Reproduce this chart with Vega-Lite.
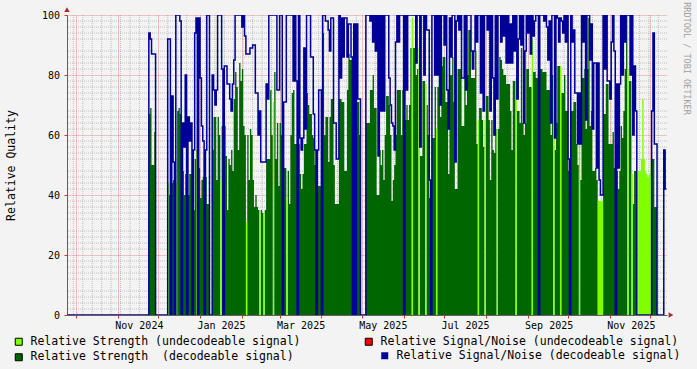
{
  "$schema": "https://vega.github.io/schema/vega-lite/v6.json",
  "width": 600,
  "height": 300,
  "autosize": {"type": "none"},
  "padding": {"left": 67, "top": 15, "right": 30, "bottom": 54},
  "background": "#f3f3f3",
  "config": {"view": {"fill": "#ffffff", "stroke": null}, "font": "DejaVu Sans Mono"},
  "title": {"text": "RRDTOOL / TOBI OETIKER", "orient": "right", "anchor": "start", "font": "DejaVu Sans Mono", "fontSize": 8.5, "fontWeight": "normal", "color": "#a0a0a0", "offset": 1, "dx": -5},
  "datasets": {
    "hgrid": [{"v":2},{"v":4},{"v":6},{"v":8},{"v":12},{"v":14},{"v":16},{"v":18},{"v":22},{"v":24},{"v":26},{"v":28},{"v":32},{"v":34},{"v":36},{"v":38},{"v":42},{"v":44},{"v":46},{"v":48},{"v":52},{"v":54},{"v":56},{"v":58},{"v":62},{"v":64},{"v":66},{"v":68},{"v":72},{"v":74},{"v":76},{"v":78},{"v":82},{"v":84},{"v":86},{"v":88},{"v":92},{"v":94},{"v":96},{"v":98}],
    "weeks": [{"date":"2024-09-29"},{"date":"2024-10-06"},{"date":"2024-10-13"},{"date":"2024-10-20"},{"date":"2024-10-27"},{"date":"2024-11-03"},{"date":"2024-11-10"},{"date":"2024-11-17"},{"date":"2024-11-24"},{"date":"2024-12-08"},{"date":"2024-12-15"},{"date":"2024-12-22"},{"date":"2024-12-29"},{"date":"2025-01-05"},{"date":"2025-01-12"},{"date":"2025-01-19"},{"date":"2025-01-26"},{"date":"2025-02-02"},{"date":"2025-02-09"},{"date":"2025-02-16"},{"date":"2025-02-23"},{"date":"2025-03-02"},{"date":"2025-03-09"},{"date":"2025-03-16"},{"date":"2025-03-23"},{"date":"2025-03-30"},{"date":"2025-04-06"},{"date":"2025-04-13"},{"date":"2025-04-20"},{"date":"2025-04-27"},{"date":"2025-05-04"},{"date":"2025-05-11"},{"date":"2025-05-18"},{"date":"2025-05-25"},{"date":"2025-06-08"},{"date":"2025-06-15"},{"date":"2025-06-22"},{"date":"2025-06-29"},{"date":"2025-07-06"},{"date":"2025-07-13"},{"date":"2025-07-20"},{"date":"2025-07-27"},{"date":"2025-08-03"},{"date":"2025-08-10"},{"date":"2025-08-17"},{"date":"2025-08-24"},{"date":"2025-08-31"},{"date":"2025-09-07"},{"date":"2025-09-14"},{"date":"2025-09-21"},{"date":"2025-09-28"},{"date":"2025-10-05"},{"date":"2025-10-12"},{"date":"2025-10-19"},{"date":"2025-10-26"},{"date":"2025-11-02"},{"date":"2025-11-09"},{"date":"2025-11-16"},{"date":"2025-11-23"},{"date":"2025-11-30"},{"date":"2025-12-07"}],
    "main": [
      {"date":"2024-09-24","dec":0,"und":0,"snr":0},
      {"date":"2024-11-24","dec":67,"und":0,"snr":94},
      {"date":"2024-11-25","dec":69,"und":0,"snr":92},
      {"date":"2024-11-26","dec":50,"und":0,"snr":87},
      {"date":"2024-11-27","dec":50,"und":0,"snr":87},
      {"date":"2024-11-28","dec":61,"und":0,"snr":87},
      {"date":"2024-11-29","dec":0,"und":0,"snr":0},
      {"date":"2024-12-08","dec":0,"und":44,"snr":92},
      {"date":"2024-12-09","dec":40,"und":0,"snr":92},
      {"date":"2024-12-10","dec":0,"und":0,"snr":0},
      {"date":"2024-12-11","dec":44,"und":0,"snr":73},
      {"date":"2024-12-12","dec":45,"und":0,"snr":51},
      {"date":"2024-12-13","dec":0,"und":0,"snr":0},
      {"date":"2024-12-14","dec":0,"und":44,"snr":100},
      {"date":"2024-12-15","dec":68,"und":0,"snr":100},
      {"date":"2024-12-16","dec":69,"und":0,"snr":100},
      {"date":"2024-12-17","dec":67,"und":0,"snr":98},
      {"date":"2024-12-18","dec":0,"und":0,"snr":0},
      {"date":"2024-12-19","dec":48,"und":0,"snr":64},
      {"date":"2024-12-20","dec":40,"und":0,"snr":56},
      {"date":"2024-12-21","dec":47,"und":0,"snr":80},
      {"date":"2024-12-22","dec":0,"und":0,"snr":0},
      {"date":"2024-12-23","dec":40,"und":0,"snr":66},
      {"date":"2024-12-24","dec":47,"und":0,"snr":58},
      {"date":"2024-12-25","dec":47,"und":0,"snr":64},
      {"date":"2024-12-26","dec":0,"und":0,"snr":0},
      {"date":"2024-12-27","dec":35,"und":0,"snr":55},
      {"date":"2024-12-28","dec":52,"und":0,"snr":94},
      {"date":"2024-12-29","dec":0,"und":55,"snr":99},
      {"date":"2024-12-30","dec":0,"und":0,"snr":0},
      {"date":"2024-12-31","dec":49,"und":0,"snr":99},
      {"date":"2025-01-01","dec":39,"und":0,"snr":79},
      {"date":"2025-01-02","dec":45,"und":0,"snr":63},
      {"date":"2025-01-03","dec":46,"und":0,"snr":58},
      {"date":"2025-01-04","dec":0,"und":0,"snr":0},
      {"date":"2025-01-05","dec":46,"und":0,"snr":55},
      {"date":"2025-01-06","dec":37,"und":0,"snr":100},
      {"date":"2025-01-07","dec":37,"und":0,"snr":100},
      {"date":"2025-01-08","dec":0,"und":0,"snr":0},
      {"date":"2025-01-10","dec":55,"und":0,"snr":80},
      {"date":"2025-01-11","dec":66,"und":0,"snr":75},
      {"date":"2025-01-12","dec":66,"und":0,"snr":70},
      {"date":"2025-01-13","dec":45,"und":0,"snr":75},
      {"date":"2025-01-14","dec":66,"und":0,"snr":100},
      {"date":"2025-01-15","dec":60,"und":0,"snr":100},
      {"date":"2025-01-16","dec":0,"und":45,"snr":100},
      {"date":"2025-01-17","dec":63,"und":0,"snr":82},
      {"date":"2025-01-18","dec":0,"und":0,"snr":0},
      {"date":"2025-01-19","dec":63,"und":0,"snr":83},
      {"date":"2025-01-20","dec":53,"und":0,"snr":83},
      {"date":"2025-01-21","dec":35,"und":0,"snr":77},
      {"date":"2025-01-22","dec":52,"und":0,"snr":77},
      {"date":"2025-01-23","dec":50,"und":0,"snr":72},
      {"date":"2025-01-24","dec":55,"und":0,"snr":68},
      {"date":"2025-01-25","dec":48,"und":0,"snr":77},
      {"date":"2025-01-26","dec":72,"und":0,"snr":85},
      {"date":"2025-01-27","dec":81,"und":0,"snr":100},
      {"date":"2025-01-28","dec":76,"und":0,"snr":100},
      {"date":"2025-01-29","dec":55,"und":0,"snr":100},
      {"date":"2025-01-30","dec":84,"und":0,"snr":100},
      {"date":"2025-01-31","dec":78,"und":0,"snr":100},
      {"date":"2025-02-01","dec":82,"und":0,"snr":96},
      {"date":"2025-02-02","dec":63,"und":0,"snr":100},
      {"date":"2025-02-03","dec":60,"und":0,"snr":93},
      {"date":"2025-02-04","dec":0,"und":31,"snr":87},
      {"date":"2025-02-05","dec":60,"und":0,"snr":87},
      {"date":"2025-02-06","dec":45,"und":0,"snr":87},
      {"date":"2025-02-07","dec":62,"und":0,"snr":89},
      {"date":"2025-02-08","dec":60,"und":0,"snr":89},
      {"date":"2025-02-09","dec":45,"und":0,"snr":90},
      {"date":"2025-02-10","dec":36,"und":0,"snr":90},
      {"date":"2025-02-11","dec":40,"und":0,"snr":74},
      {"date":"2025-02-12","dec":36,"und":0,"snr":74},
      {"date":"2025-02-13","dec":35,"und":0,"snr":60},
      {"date":"2025-02-14","dec":0,"und":34,"snr":68},
      {"date":"2025-02-15","dec":35,"und":0,"snr":51},
      {"date":"2025-02-16","dec":34,"und":0,"snr":51},
      {"date":"2025-02-17","dec":0,"und":34,"snr":51},
      {"date":"2025-02-18","dec":35,"und":0,"snr":51},
      {"date":"2025-02-19","dec":52,"und":0,"snr":77},
      {"date":"2025-02-20","dec":52,"und":0,"snr":72},
      {"date":"2025-02-21","dec":52,"und":0,"snr":100},
      {"date":"2025-02-22","dec":75,"und":0,"snr":100},
      {"date":"2025-02-23","dec":60,"und":0,"snr":100},
      {"date":"2025-02-24","dec":0,"und":71,"snr":100},
      {"date":"2025-02-25","dec":81,"und":0,"snr":100},
      {"date":"2025-02-26","dec":52,"und":0,"snr":100},
      {"date":"2025-02-27","dec":64,"und":0,"snr":75},
      {"date":"2025-02-28","dec":43,"und":0,"snr":75},
      {"date":"2025-03-01","dec":64,"und":0,"snr":100},
      {"date":"2025-03-02","dec":60,"und":0,"snr":100},
      {"date":"2025-03-03","dec":0,"und":0,"snr":0},
      {"date":"2025-03-04","dec":49,"und":0,"snr":71},
      {"date":"2025-03-05","dec":49,"und":0,"snr":71},
      {"date":"2025-03-06","dec":0,"und":39,"snr":100},
      {"date":"2025-03-07","dec":48,"und":0,"snr":100},
      {"date":"2025-03-08","dec":37,"und":0,"snr":100},
      {"date":"2025-03-09","dec":60,"und":0,"snr":100},
      {"date":"2025-03-10","dec":74,"und":0,"snr":100},
      {"date":"2025-03-11","dec":75,"und":0,"snr":78},
      {"date":"2025-03-12","dec":57,"und":0,"snr":100},
      {"date":"2025-03-13","dec":57,"und":0,"snr":78},
      {"date":"2025-03-14","dec":0,"und":0,"snr":0},
      {"date":"2025-03-15","dec":57,"und":0,"snr":100},
      {"date":"2025-03-16","dec":47,"und":0,"snr":59},
      {"date":"2025-03-17","dec":42,"und":0,"snr":55},
      {"date":"2025-03-18","dec":47,"und":0,"snr":59},
      {"date":"2025-03-19","dec":57,"und":0,"snr":89},
      {"date":"2025-03-20","dec":57,"und":0,"snr":62},
      {"date":"2025-03-21","dec":74,"und":0,"snr":100},
      {"date":"2025-03-22","dec":70,"und":0,"snr":100},
      {"date":"2025-03-23","dec":67,"und":0,"snr":100},
      {"date":"2025-03-24","dec":67,"und":0,"snr":86},
      {"date":"2025-03-25","dec":60,"und":0,"snr":86},
      {"date":"2025-03-26","dec":59,"und":0,"snr":67},
      {"date":"2025-03-27","dec":50,"und":0,"snr":55},
      {"date":"2025-03-28","dec":0,"und":0,"snr":0},
      {"date":"2025-03-29","dec":43,"und":0,"snr":55},
      {"date":"2025-03-30","dec":43,"und":0,"snr":75},
      {"date":"2025-03-31","dec":43,"und":0,"snr":75},
      {"date":"2025-04-01","dec":0,"und":0,"snr":0},
      {"date":"2025-04-02","dec":94,"und":0,"snr":100},
      {"date":"2025-04-03","dec":60,"und":0,"snr":100},
      {"date":"2025-04-04","dec":66,"und":0,"snr":98},
      {"date":"2025-04-05","dec":66,"und":0,"snr":98},
      {"date":"2025-04-06","dec":51,"und":0,"snr":95},
      {"date":"2025-04-07","dec":66,"und":0,"snr":88},
      {"date":"2025-04-08","dec":72,"und":0,"snr":99},
      {"date":"2025-04-09","dec":72,"und":0,"snr":99},
      {"date":"2025-04-10","dec":50,"und":0,"snr":64},
      {"date":"2025-04-11","dec":37,"und":0,"snr":64},
      {"date":"2025-04-12","dec":37,"und":0,"snr":52},
      {"date":"2025-04-13","dec":37,"und":0,"snr":52},
      {"date":"2025-04-14","dec":72,"und":0,"snr":100},
      {"date":"2025-04-15","dec":72,"und":0,"snr":79},
      {"date":"2025-04-16","dec":71,"und":0,"snr":99},
      {"date":"2025-04-17","dec":71,"und":0,"snr":86},
      {"date":"2025-04-18","dec":48,"und":0,"snr":99},
      {"date":"2025-04-19","dec":48,"und":0,"snr":99},
      {"date":"2025-04-20","dec":75,"und":0,"snr":86},
      {"date":"2025-04-21","dec":87,"und":0,"snr":97},
      {"date":"2025-04-22","dec":85,"und":0,"snr":97},
      {"date":"2025-04-23","dec":85,"und":0,"snr":86},
      {"date":"2025-04-24","dec":0,"und":0,"snr":0},
      {"date":"2025-04-25","dec":48,"und":0,"snr":97},
      {"date":"2025-04-26","dec":0,"und":0,"snr":0},
      {"date":"2025-04-27","dec":71,"und":0,"snr":97},
      {"date":"2025-04-28","dec":71,"und":0,"snr":72},
      {"date":"2025-04-29","dec":60,"und":0,"snr":72},
      {"date":"2025-04-30","dec":0,"und":0,"snr":0},
      {"date":"2025-05-04","dec":64,"und":0,"snr":100},
      {"date":"2025-05-05","dec":64,"und":0,"snr":100},
      {"date":"2025-05-06","dec":64,"und":0,"snr":100},
      {"date":"2025-05-07","dec":75,"und":0,"snr":98},
      {"date":"2025-05-08","dec":75,"und":0,"snr":100},
      {"date":"2025-05-09","dec":80,"und":0,"snr":91},
      {"date":"2025-05-10","dec":69,"und":0,"snr":100},
      {"date":"2025-05-11","dec":69,"und":0,"snr":88},
      {"date":"2025-05-12","dec":40,"und":0,"snr":100},
      {"date":"2025-05-13","dec":40,"und":0,"snr":53},
      {"date":"2025-05-14","dec":55,"und":0,"snr":100},
      {"date":"2025-05-15","dec":50,"und":0,"snr":68},
      {"date":"2025-05-16","dec":55,"und":0,"snr":100},
      {"date":"2025-05-17","dec":45,"und":0,"snr":68},
      {"date":"2025-05-18","dec":60,"und":0,"snr":100},
      {"date":"2025-05-19","dec":73,"und":0,"snr":100},
      {"date":"2025-05-20","dec":73,"und":0,"snr":100},
      {"date":"2025-05-21","dec":70,"und":0,"snr":79},
      {"date":"2025-05-22","dec":60,"und":0,"snr":70},
      {"date":"2025-05-23","dec":38,"und":0,"snr":64},
      {"date":"2025-05-24","dec":45,"und":0,"snr":63},
      {"date":"2025-05-25","dec":50,"und":0,"snr":55},
      {"date":"2025-05-26","dec":60,"und":0,"snr":91},
      {"date":"2025-05-27","dec":75,"und":0,"snr":100},
      {"date":"2025-05-28","dec":75,"und":0,"snr":91},
      {"date":"2025-05-29","dec":75,"und":0,"snr":100},
      {"date":"2025-05-30","dec":60,"und":0,"snr":100},
      {"date":"2025-05-31","dec":75,"und":0,"snr":100},
      {"date":"2025-06-01","dec":0,"und":0,"snr":0},
      {"date":"2025-06-02","dec":65,"und":0,"snr":100},
      {"date":"2025-06-03","dec":70,"und":0,"snr":75},
      {"date":"2025-06-04","dec":65,"und":0,"snr":100},
      {"date":"2025-06-05","dec":70,"und":0,"snr":100},
      {"date":"2025-06-06","dec":89,"und":0,"snr":100},
      {"date":"2025-06-07","dec":0,"und":99,"snr":100},
      {"date":"2025-06-08","dec":89,"und":0,"snr":100},
      {"date":"2025-06-09","dec":89,"und":0,"snr":100},
      {"date":"2025-06-10","dec":80,"und":0,"snr":84},
      {"date":"2025-06-11","dec":82,"und":0,"snr":100},
      {"date":"2025-06-12","dec":0,"und":89,"snr":100},
      {"date":"2025-06-13","dec":53,"und":0,"snr":56},
      {"date":"2025-06-14","dec":53,"und":0,"snr":100},
      {"date":"2025-06-15","dec":78,"und":0,"snr":100},
      {"date":"2025-06-16","dec":78,"und":0,"snr":80},
      {"date":"2025-06-17","dec":0,"und":77,"snr":100},
      {"date":"2025-06-18","dec":70,"und":0,"snr":95},
      {"date":"2025-06-19","dec":60,"und":0,"snr":95},
      {"date":"2025-06-20","dec":39,"und":0,"snr":45},
      {"date":"2025-06-21","dec":0,"und":0,"snr":0},
      {"date":"2025-06-22","dec":59,"und":0,"snr":100},
      {"date":"2025-06-23","dec":59,"und":0,"snr":100},
      {"date":"2025-06-24","dec":76,"und":0,"snr":80},
      {"date":"2025-06-25","dec":0,"und":62,"snr":100},
      {"date":"2025-06-26","dec":76,"und":0,"snr":80},
      {"date":"2025-06-27","dec":83,"und":0,"snr":100},
      {"date":"2025-06-28","dec":66,"und":0,"snr":70},
      {"date":"2025-06-29","dec":83,"und":0,"snr":100},
      {"date":"2025-06-30","dec":86,"und":0,"snr":100},
      {"date":"2025-07-01","dec":86,"und":0,"snr":90},
      {"date":"2025-07-02","dec":71,"und":0,"snr":100},
      {"date":"2025-07-03","dec":71,"und":0,"snr":75},
      {"date":"2025-07-04","dec":47,"und":0,"snr":62},
      {"date":"2025-07-05","dec":80,"und":0,"snr":99},
      {"date":"2025-07-06","dec":80,"und":0,"snr":86},
      {"date":"2025-07-07","dec":86,"und":0,"snr":100},
      {"date":"2025-07-08","dec":71,"und":0,"snr":100},
      {"date":"2025-07-09","dec":42,"und":0,"snr":51},
      {"date":"2025-07-10","dec":42,"und":0,"snr":98},
      {"date":"2025-07-11","dec":82,"und":0,"snr":100},
      {"date":"2025-07-12","dec":82,"und":0,"snr":95},
      {"date":"2025-07-13","dec":82,"und":0,"snr":100},
      {"date":"2025-07-14","dec":63,"und":0,"snr":79},
      {"date":"2025-07-15","dec":63,"und":0,"snr":79},
      {"date":"2025-07-16","dec":80,"und":0,"snr":100},
      {"date":"2025-07-17","dec":70,"und":0,"snr":75},
      {"date":"2025-07-18","dec":80,"und":0,"snr":100},
      {"date":"2025-07-19","dec":95,"und":0,"snr":100},
      {"date":"2025-07-20","dec":95,"und":0,"snr":100},
      {"date":"2025-07-21","dec":79,"und":0,"snr":88},
      {"date":"2025-07-22","dec":79,"und":0,"snr":82},
      {"date":"2025-07-23","dec":79,"und":0,"snr":88},
      {"date":"2025-07-24","dec":88,"und":0,"snr":100},
      {"date":"2025-07-25","dec":57,"und":0,"snr":91},
      {"date":"2025-07-26","dec":0,"und":65,"snr":100},
      {"date":"2025-07-27","dec":69,"und":0,"snr":100},
      {"date":"2025-07-28","dec":69,"und":0,"snr":74},
      {"date":"2025-07-29","dec":65,"und":0,"snr":100},
      {"date":"2025-07-30","dec":56,"und":0,"snr":68},
      {"date":"2025-07-31","dec":0,"und":65,"snr":100},
      {"date":"2025-08-01","dec":73,"und":0,"snr":100},
      {"date":"2025-08-02","dec":73,"und":0,"snr":95},
      {"date":"2025-08-03","dec":65,"und":0,"snr":100},
      {"date":"2025-08-04","dec":45,"und":0,"snr":68},
      {"date":"2025-08-05","dec":65,"und":0,"snr":100},
      {"date":"2025-08-06","dec":55,"und":0,"snr":79},
      {"date":"2025-08-07","dec":54,"und":0,"snr":60},
      {"date":"2025-08-08","dec":62,"und":0,"snr":100},
      {"date":"2025-08-09","dec":0,"und":62,"snr":72},
      {"date":"2025-08-10","dec":62,"und":0,"snr":100},
      {"date":"2025-08-11","dec":86,"und":0,"snr":100},
      {"date":"2025-08-12","dec":85,"und":0,"snr":91},
      {"date":"2025-08-13","dec":82,"und":0,"snr":100},
      {"date":"2025-08-14","dec":80,"und":0,"snr":93},
      {"date":"2025-08-15","dec":80,"und":0,"snr":100},
      {"date":"2025-08-16","dec":77,"und":0,"snr":84},
      {"date":"2025-08-17","dec":77,"und":0,"snr":100},
      {"date":"2025-08-18","dec":77,"und":0,"snr":84},
      {"date":"2025-08-19","dec":68,"und":0,"snr":97},
      {"date":"2025-08-20","dec":55,"und":0,"snr":84},
      {"date":"2025-08-21","dec":78,"und":0,"snr":100},
      {"date":"2025-08-22","dec":78,"und":0,"snr":88},
      {"date":"2025-08-23","dec":0,"und":79,"snr":100},
      {"date":"2025-08-24","dec":68,"und":0,"snr":72},
      {"date":"2025-08-25","dec":68,"und":0,"snr":92},
      {"date":"2025-08-26","dec":64,"und":0,"snr":100},
      {"date":"2025-08-27","dec":89,"und":0,"snr":90},
      {"date":"2025-08-28","dec":64,"und":0,"snr":100},
      {"date":"2025-08-29","dec":60,"und":0,"snr":64},
      {"date":"2025-08-30","dec":64,"und":0,"snr":88},
      {"date":"2025-08-31","dec":82,"und":0,"snr":100},
      {"date":"2025-09-01","dec":82,"und":0,"snr":94},
      {"date":"2025-09-02","dec":76,"und":0,"snr":100},
      {"date":"2025-09-03","dec":76,"und":0,"snr":87},
      {"date":"2025-09-04","dec":0,"und":92,"snr":100},
      {"date":"2025-09-05","dec":81,"und":0,"snr":93},
      {"date":"2025-09-06","dec":81,"und":0,"snr":98},
      {"date":"2025-09-07","dec":79,"und":0,"snr":100},
      {"date":"2025-09-08","dec":79,"und":0,"snr":100},
      {"date":"2025-09-09","dec":0,"und":0,"snr":0},
      {"date":"2025-09-10","dec":82,"und":0,"snr":100},
      {"date":"2025-09-11","dec":82,"und":0,"snr":100},
      {"date":"2025-09-12","dec":81,"und":0,"snr":100},
      {"date":"2025-09-13","dec":81,"und":0,"snr":98},
      {"date":"2025-09-14","dec":81,"und":0,"snr":100},
      {"date":"2025-09-15","dec":75,"und":0,"snr":96},
      {"date":"2025-09-16","dec":75,"und":0,"snr":85},
      {"date":"2025-09-17","dec":75,"und":0,"snr":98},
      {"date":"2025-09-18","dec":60,"und":0,"snr":64},
      {"date":"2025-09-19","dec":80,"und":0,"snr":100},
      {"date":"2025-09-20","dec":0,"und":68,"snr":100},
      {"date":"2025-09-21","dec":55,"und":0,"snr":59},
      {"date":"2025-09-22","dec":64,"und":0,"snr":100},
      {"date":"2025-09-23","dec":83,"und":0,"snr":99},
      {"date":"2025-09-24","dec":83,"und":0,"snr":91},
      {"date":"2025-09-25","dec":0,"und":83,"snr":99},
      {"date":"2025-09-26","dec":74,"und":0,"snr":98},
      {"date":"2025-09-27","dec":74,"und":0,"snr":94},
      {"date":"2025-09-28","dec":80,"und":0,"snr":100},
      {"date":"2025-09-29","dec":68,"und":0,"snr":91},
      {"date":"2025-09-30","dec":68,"und":0,"snr":100},
      {"date":"2025-10-01","dec":48,"und":0,"snr":52},
      {"date":"2025-10-02","dec":0,"und":0,"snr":0},
      {"date":"2025-10-03","dec":68,"und":0,"snr":100},
      {"date":"2025-10-04","dec":68,"und":0,"snr":91},
      {"date":"2025-10-05","dec":71,"und":0,"snr":95},
      {"date":"2025-10-06","dec":71,"und":0,"snr":74},
      {"date":"2025-10-07","dec":57,"und":0,"snr":74},
      {"date":"2025-10-08","dec":50,"und":0,"snr":57},
      {"date":"2025-10-09","dec":0,"und":62,"snr":74},
      {"date":"2025-10-10","dec":45,"und":0,"snr":57},
      {"date":"2025-10-11","dec":79,"und":0,"snr":100},
      {"date":"2025-10-12","dec":79,"und":0,"snr":91},
      {"date":"2025-10-13","dec":82,"und":0,"snr":100},
      {"date":"2025-10-14","dec":62,"und":0,"snr":65},
      {"date":"2025-10-15","dec":82,"und":0,"snr":100},
      {"date":"2025-10-16","dec":99,"und":0,"snr":100},
      {"date":"2025-10-17","dec":63,"und":0,"snr":85},
      {"date":"2025-10-18","dec":68,"und":0,"snr":97},
      {"date":"2025-10-19","dec":48,"und":0,"snr":62},
      {"date":"2025-10-20","dec":48,"und":0,"snr":84},
      {"date":"2025-10-21","dec":49,"und":0,"snr":84},
      {"date":"2025-10-22","dec":45,"und":0,"snr":49},
      {"date":"2025-10-23","dec":0,"und":38,"snr":84},
      {"date":"2025-10-24","dec":0,"und":38,"snr":45},
      {"date":"2025-10-25","dec":0,"und":38,"snr":40},
      {"date":"2025-10-26","dec":0,"und":38,"snr":40},
      {"date":"2025-10-27","dec":67,"und":0,"snr":100},
      {"date":"2025-10-28","dec":67,"und":0,"snr":82},
      {"date":"2025-10-29","dec":77,"und":0,"snr":100},
      {"date":"2025-10-30","dec":77,"und":0,"snr":78},
      {"date":"2025-10-31","dec":57,"und":0,"snr":78},
      {"date":"2025-11-01","dec":57,"und":0,"snr":72},
      {"date":"2025-11-02","dec":57,"und":0,"snr":91},
      {"date":"2025-11-03","dec":61,"und":0,"snr":100},
      {"date":"2025-11-04","dec":49,"und":0,"snr":88},
      {"date":"2025-11-05","dec":0,"und":0,"snr":0},
      {"date":"2025-11-06","dec":48,"und":0,"snr":77},
      {"date":"2025-11-07","dec":42,"und":0,"snr":49},
      {"date":"2025-11-08","dec":48,"und":0,"snr":77},
      {"date":"2025-11-09","dec":63,"und":0,"snr":100},
      {"date":"2025-11-10","dec":59,"und":0,"snr":80},
      {"date":"2025-11-11","dec":68,"und":0,"snr":100},
      {"date":"2025-11-12","dec":82,"und":0,"snr":91},
      {"date":"2025-11-13","dec":100,"und":0,"snr":100},
      {"date":"2025-11-14","dec":0,"und":82,"snr":100},
      {"date":"2025-11-15","dec":78,"und":0,"snr":100},
      {"date":"2025-11-16","dec":78,"und":0,"snr":80},
      {"date":"2025-11-17","dec":0,"und":47,"snr":100},
      {"date":"2025-11-18","dec":37,"und":0,"snr":60},
      {"date":"2025-11-19","dec":48,"und":0,"snr":83},
      {"date":"2025-11-20","dec":48,"und":0,"snr":68},
      {"date":"2025-11-21","dec":0,"und":0,"snr":0},
      {"date":"2025-11-22","dec":0,"und":48,"snr":0},
      {"date":"2025-11-23","dec":0,"und":48,"snr":0},
      {"date":"2025-11-24","dec":0,"und":52,"snr":0},
      {"date":"2025-11-25","dec":0,"und":72,"snr":0},
      {"date":"2025-11-26","dec":0,"und":52,"snr":0},
      {"date":"2025-11-27","dec":0,"und":48,"snr":0},
      {"date":"2025-11-28","dec":0,"und":47,"snr":0},
      {"date":"2025-11-29","dec":0,"und":46,"snr":0},
      {"date":"2025-11-30","dec":0,"und":47,"snr":0},
      {"date":"2025-12-01","dec":0,"und":50,"snr":0},
      {"date":"2025-12-02","dec":52,"und":0,"snr":68},
      {"date":"2025-12-03","dec":52,"und":0,"snr":94},
      {"date":"2025-12-04","dec":36,"und":0,"snr":57},
      {"date":"2025-12-05","dec":36,"und":0,"snr":57},
      {"date":"2025-12-06","dec":0,"und":0,"snr":0},
      {"date":"2025-12-11","dec":0,"und":0,"snr":55},
      {"date":"2025-12-12","dec":0,"und":0,"snr":42},
      {"date":"2025-12-13","dec":0,"und":0,"snr":42}
    ],
    "arrowUp": [{"date": 1727161200000, "v": 101.8}],
    "arrowRight": [{"date": 1765874800000, "v": 0}]
  },
  "layer": [
    {
      "data": {"name": "hgrid"},
      "mark": {"type": "rule", "stroke": "#8f8f8f", "strokeOpacity": 0.5, "strokeDash": [1, 1], "strokeWidth": 1},
      "encoding": {
        "y": {"field": "v", "type": "quantitative", "scale": {"domain": [0, 100], "nice": false}, "title": "Relative Quality",
          "axis": {"values": [0,10,20,30,40,50,60,70,80,90,100], "grid": true, "gridColor": "#de3030", "gridOpacity": 0.5, "gridDash": [1, 1], "tickSize": 3, "tickColor": "#de3030", "domainColor": "#606060", "labelFont": "DejaVu Sans Mono", "labelFontSize": 10, "labelColor": "#000000", "labelPadding": 4.5, "titleFont": "DejaVu Sans Mono", "titleFontSize": 11.5, "titleFontWeight": "normal", "titleColor": "#000000", "titleX": -56, "titleY": 150, "titleAngle": 270, "titleAlign": "center", "titleBaseline": "middle"}}
      }
    },
    {
      "data": {"name": "weeks"},
      "mark": {"type": "rule", "stroke": "#8f8f8f", "strokeOpacity": 0.5, "strokeDash": [1, 1], "strokeWidth": 1},
      "encoding": {
        "x": {"field": "date", "type": "temporal", "scale": {"type": "utc", "domain": [1727161200000, 1765618200000]}, "title": null,
          "axis": {"values": [1727740800000,1730419200000,1733011200000,1735689600000,1738368000000,1740787200000,1743465600000,1746057600000,1748736000000,1751328000000,1754006400000,1756684800000,1759276800000,1761955200000,1764547200000],
            "labelExpr": "utcmonth(datum.value) % 2 == 0 ? utcFormat(datum.value, '%b %Y') : ''", "labelOffset": 21, "labelFlush": false, "labelOverlap": false, "labelAngle": 0, "labelAlign": "center", "labelBaseline": "top", "grid": true, "gridColor": "#de3030", "gridOpacity": 0.5, "gridDash": [1, 1], "tickSize": 3, "tickColor": "#de3030", "domainColor": "#606060", "labelFont": "DejaVu Sans Mono", "labelFontSize": 10, "labelColor": "#000000", "labelPadding": 2}}
      }
    },
    {
      "data": {"name": "main"},
      "mark": {"type": "area", "interpolate": "step-after", "color": "#006600", "clip": true},
      "encoding": {
        "x": {"field": "date", "type": "temporal", "scale": {"type": "utc", "domain": [1727161200000, 1765618200000]}, "title": null},
        "y": {"field": "dec", "type": "quantitative", "scale": {"domain": [0, 100], "nice": false}, "title": "Relative Quality"}
      }
    },
    {
      "data": {"name": "main"},
      "mark": {"type": "area", "interpolate": "step-after", "color": "#80ff00", "clip": true},
      "encoding": {
        "x": {"field": "date", "type": "temporal", "scale": {"type": "utc", "domain": [1727161200000, 1765618200000]}, "title": null},
        "y": {"field": "und", "type": "quantitative", "scale": {"domain": [0, 100], "nice": false}, "title": "Relative Quality"}
      }
    },
    {
      "data": {"name": "main"},
      "mark": {"type": "line", "interpolate": "step-after", "stroke": "#000099", "strokeWidth": 1.5, "clip": true},
      "encoding": {
        "x": {"field": "date", "type": "temporal", "scale": {"type": "utc", "domain": [1727161200000, 1765618200000]}, "title": null},
        "y": {"field": "snr", "type": "quantitative", "scale": {"domain": [0, 100], "nice": false}, "title": "Relative Quality"}
      }
    },
    {
      "data": {"name": "arrowUp"},
      "mark": {"type": "point", "shape": "triangle-up", "filled": true, "size": 30, "color": "#a03030", "opacity": 1},
      "encoding": {
        "x": {"field": "date", "type": "temporal", "scale": {"type": "utc", "domain": [1727161200000, 1765618200000]}, "title": null},
        "y": {"field": "v", "type": "quantitative", "scale": {"domain": [0, 100], "nice": false}, "title": "Relative Quality"}
      }
    },
    {
      "data": {"name": "arrowRight"},
      "mark": {"type": "point", "shape": "triangle-right", "filled": true, "size": 30, "color": "#a03030", "opacity": 1},
      "encoding": {
        "x": {"field": "date", "type": "temporal", "scale": {"type": "utc", "domain": [1727161200000, 1765618200000]}, "title": null},
        "y": {"field": "v", "type": "quantitative", "scale": {"domain": [0, 100], "nice": false}, "title": "Relative Quality"}
      }
    },
    {
      "data": {"values": []},
      "mark": {"type": "square", "stroke": "#000000", "strokeWidth": 1},
      "encoding": {
        "fill": {"field": "k", "type": "nominal",
          "scale": {"domain": ["Relative Strength (undecodeable signal)", "Relative Strength \u00a0(decodeable signal)"], "range": ["#80ff00", "#006600"]},
          "legend": {"orient": "none", "legendX": -54, "legendY": 321, "direction": "vertical", "title": null, "symbolType": "square", "symbolSize": 49, "symbolStrokeColor": "#000000", "symbolStrokeWidth": 1, "symbolOpacity": 1, "labelFont": "DejaVu Sans Mono", "labelFontSize": 11.5, "labelColor": "#000000", "labelOffset": 6, "rowPadding": 2.5, "labelLimit": 0, "padding": 0}}
      }
    },
    {
      "data": {"values": []},
      "mark": {"type": "square", "stroke": "#000000", "strokeWidth": 1},
      "encoding": {
        "color": {"field": "k", "type": "nominal",
          "scale": {"domain": ["Relative Signal/Noise (undecodeable signal)"], "range": ["#ff0000"]},
          "legend": {"orient": "none", "legendX": 296, "legendY": 321, "direction": "vertical", "title": null, "symbolType": "square", "symbolSize": 49, "symbolStrokeColor": "#000000", "symbolStrokeWidth": 1, "symbolOpacity": 1, "labelFont": "DejaVu Sans Mono", "labelFontSize": 11.5, "labelColor": "#000000", "labelOffset": 6, "labelLimit": 0, "padding": 0}}
      }
    },
    {
      "data": {"values": []},
      "mark": {"type": "point", "filled": true, "fill": "#000099", "stroke": "#000000", "strokeWidth": 1},
      "encoding": {
        "shape": {"field": "k", "type": "nominal",
          "scale": {"domain": ["Relative Signal/Noise (decodeable signal)"], "range": ["square"]},
          "legend": {"orient": "none", "legendX": 312, "legendY": 335, "direction": "vertical", "title": null, "symbolType": "square", "symbolSize": 49, "symbolFillColor": "#000099", "symbolStrokeColor": "#000000", "symbolStrokeWidth": 1, "symbolOpacity": 1, "labelFont": "DejaVu Sans Mono", "labelFontSize": 11.5, "labelColor": "#000000", "labelOffset": 6, "labelLimit": 0, "padding": 0}}
      }
    }
  ]
}
